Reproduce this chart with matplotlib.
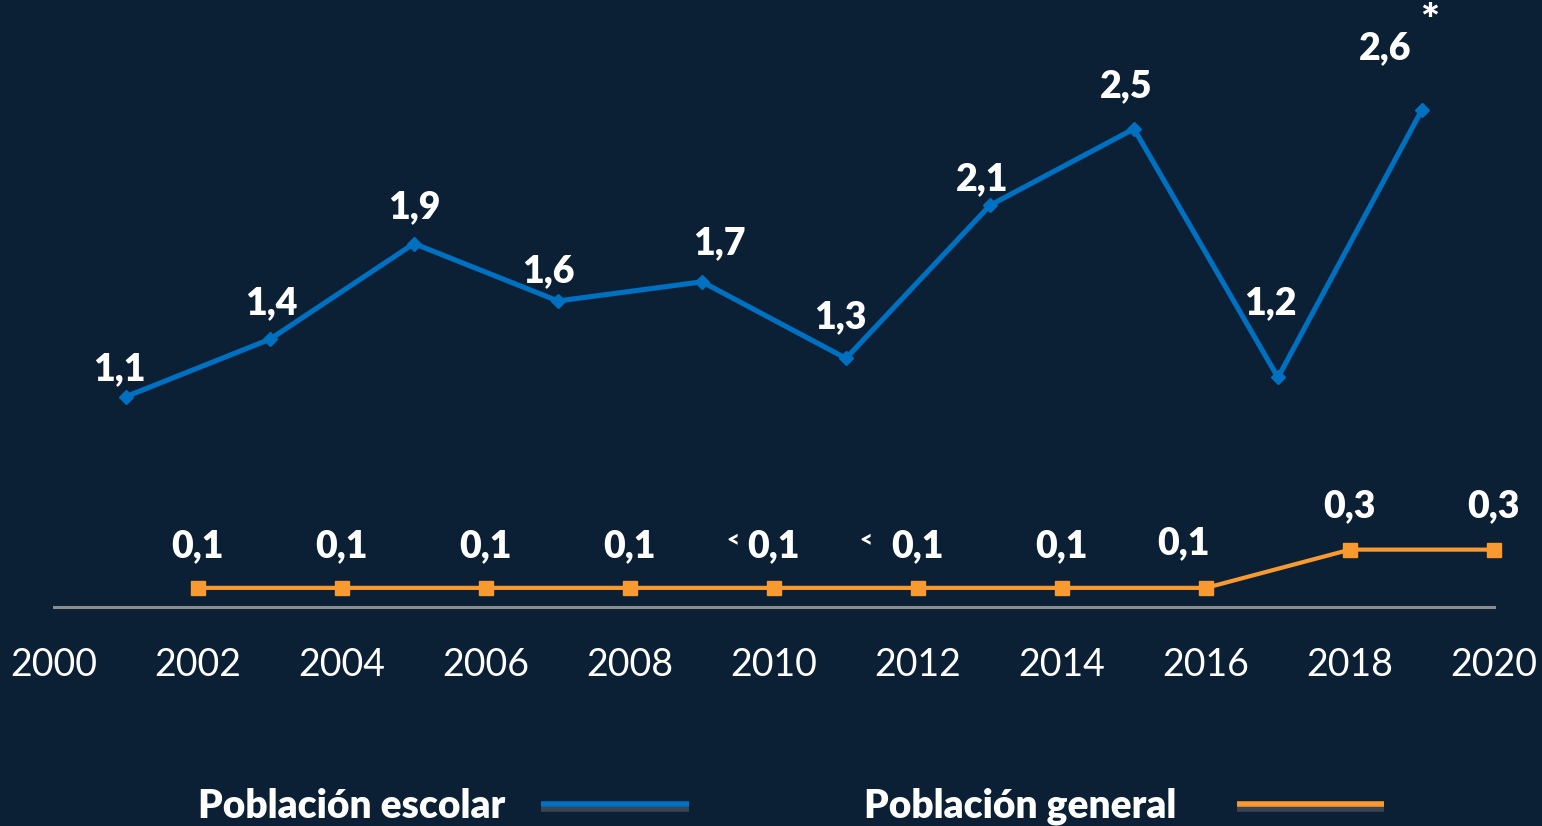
import matplotlib
matplotlib.use("Agg")
import matplotlib.pyplot as plt
from matplotlib.lines import Line2D
import matplotlib.patheffects as pe

# ---- data ----
years_escolar = [2001, 2003, 2005, 2007, 2009, 2011, 2013, 2015, 2017, 2019]
escolar = [1.1, 1.4, 1.9, 1.6, 1.7, 1.3, 2.1, 2.5, 1.2, 2.6]
escolar_labels = ["1,1", "1,4", "1,9", "1,6", "1,7", "1,3", "2,1", "2,5", "1,2", "2,6"]

years_general = [2002, 2004, 2006, 2008, 2010, 2012, 2014, 2016, 2018, 2020]
general = [0.1, 0.1, 0.1, 0.1, 0.1, 0.1, 0.1, 0.1, 0.3, 0.3]
general_labels = ["0,1", "0,1", "0,1", "0,1", "0,1", "0,1", "0,1", "0,1", "0,3", "0,3"]
general_prefix = ["", "", "", "", "<", "<", "", "", "", ""]

xticks = list(range(2000, 2021, 2))
series_names = ["Población escolar", "Población general"]

# label offsets in pixels (dx, dy)
esc_off = [(-7, 27), (1, 36), (0, 36), (-10, 30), (17, 39), (-6, 41), (-8, 26), (-8, 43), (-8, 74), (-37, 62)]
gen_off = [(0, 42)] * 7 + [(-22, 45), (0, 43), (0, 43)]
prefix_off = [None, None, None, None, (-41, 47), (-52, 47), None, None, None, None]

BG = "#0b2035"
BLUE = "#0070c0"
ORANGE = "#f99a31"
FONT = "Lato"
WEIGHT = "heavy"

fig = plt.figure(figsize=(15.42, 8.26), dpi=100, facecolor=BG)
ax = fig.add_axes([54/1542, 1 - 607/826, (1494-54)/1542, 570/826])
ax.set_facecolor(BG)

ax.plot(years_escolar, escolar, color=BLUE, lw=3.7, marker="D", ms=7,
        solid_joinstyle="miter", clip_on=False)
ax.plot(years_general, general, color=ORANGE, lw=3.0, marker="s", ms=10.5, clip_on=False)

for x, y, t, (dx, dy) in zip(years_escolar, escolar, escolar_labels, esc_off):
    ax.annotate(t, (x, y), xytext=(dx, dy), textcoords="offset pixels",
                ha="center", va="center", color="white", fontsize=27,
                fontweight=WEIGHT, family=FONT, annotation_clip=False)
ax.annotate("*", (years_escolar[-1], escolar[-1]), xytext=(8, 88), textcoords="offset pixels",
            ha="center", va="center", color="white", fontsize=32, fontweight=WEIGHT,
            family=FONT, annotation_clip=False)

for x, y, t, (dx, dy), p, po in zip(years_general, general, general_labels, gen_off,
                                     general_prefix, prefix_off):
    ax.annotate(t, (x, y), xytext=(dx, dy), textcoords="offset pixels",
                ha="center", va="center", color="white", fontsize=27,
                fontweight=WEIGHT, family=FONT, annotation_clip=False)
    if p:
        ax.annotate(p, (x, y), xytext=po, textcoords="offset pixels",
                    ha="center", va="center", color="white", fontsize=16,
                    fontweight=WEIGHT, family=FONT, annotation_clip=False)

ax.set_xlim(2000, 2020)
ax.set_ylim(0, 2.98)
ax.set_xticks(xticks)
ax.set_xticklabels([str(v) for v in xticks], color="white", fontsize=27, family=FONT)
ax.tick_params(axis="x", length=0, pad=29)
ax.set_yticks([])
for s in ["top", "right", "left"]:
    ax.spines[s].set_visible(False)
ax.spines["bottom"].set_color("#8c8c8c")
ax.spines["bottom"].set_linewidth(2.2)

shadow = [pe.SimpleLineShadow(offset=(0, -3.5), shadow_color="#3a4452", alpha=1.0), pe.Normal()]
h1 = Line2D([], [], color=BLUE, lw=4.0, solid_capstyle="butt", path_effects=shadow)
h2 = Line2D([], [], color=ORANGE, lw=4.0, solid_capstyle="butt", path_effects=shadow)
legprop = {"family": FONT, "weight": WEIGHT, "size": 28}
for h, name, xa, pad in [(h1, series_names[0], 198/1542, 0.92), (h2, series_names[1], 864/1542, 1.55)]:
    leg = fig.legend([h], [name], loc="center left", bbox_to_anchor=(xa, 1 - 806/826),
                     frameon=False, markerfirst=False, handlelength=3.8,
                     handletextpad=pad, borderpad=0, borderaxespad=0, prop=legprop)
    for t in leg.get_texts():
        t.set_color("white")

fig.savefig("out.png", dpi=100, facecolor=BG)
